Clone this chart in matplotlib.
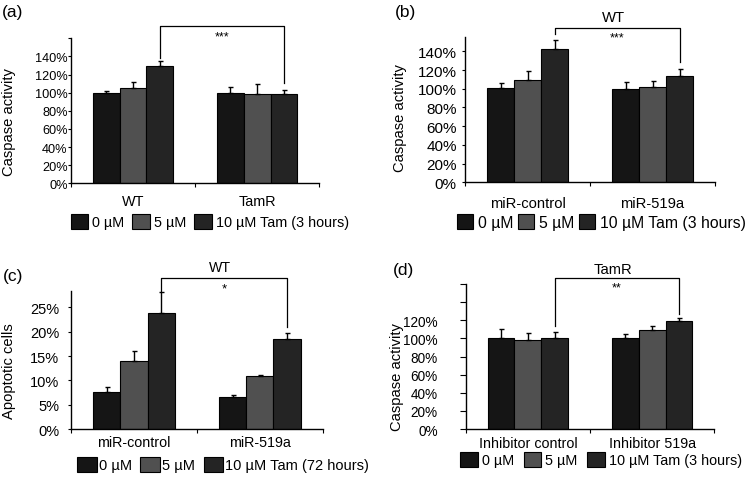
import matplotlib
matplotlib.use("Agg")
import matplotlib.pyplot as plt
import numpy as np

plt.rcParams['font.family'] = ['Liberation Sans', 'DejaVu Sans']

# ---------------- data ----------------
series_colors = ['#151515', '#505050', '#242424']

a_groups = ['WT', 'TamR']
a_0uM = [100, 100]
a_5uM = [104.8, 98.3]
a_10uM = [129, 98.5]
a_err0 = [1.5, 6]
a_err5 = [7, 11]
a_err10 = [5.5, 5]
a_legend = ['0 \u00b5M', '5 \u00b5M', '10 \u00b5M Tam (3 hours)']
a_sig = '***'

b_groups = ['miR-control', 'miR-519a']
b_0uM = [100.8, 99.8]
b_5uM = [109.7, 102.2]
b_10uM = [142.6, 113.7]
b_err0 = [5, 7]
b_err5 = [9, 6]
b_err10 = [10, 7.5]
b_legend = ['0 \u00b5M', '5 \u00b5M', '10 \u00b5M Tam (3 hours)']
b_header = 'WT'
b_sig = '***'

c_groups = ['miR-control', 'miR-519a']
c_0uM = [7.55, 6.6]
c_5uM = [13.9, 10.8]
c_10uM = [23.8, 18.5]
c_err0 = [1.15, 0.4]
c_err5 = [2.1, 0.2]
c_err10 = [4.3, 1.3]
c_legend = ['0 \u00b5M', '5 \u00b5M', '10 \u00b5M Tam (72 hours)']
c_header = 'WT'
c_sig = '*'

d_groups = ['Inhibitor control', 'Inhibitor 519a']
d_0uM = [100, 100]
d_5uM = [98.7, 108.7]
d_10uM = [100, 119.7]
d_err0 = [10, 5]
d_err5 = [7, 5.5]
d_err10 = [7, 3]
d_legend = ['0 \u00b5M', '5 \u00b5M', '10 \u00b5M Tam (3 hours)']
d_header = 'TamR'
d_sig = '**'

W, H = 745, 481
fig = plt.figure(figsize=(W / 100, H / 100), dpi=100)


def fx(px):
    return px / W


def fy(py):
    return 1 - py / H


def make_panel(letter, rect_px, groups, vals, errs, ylim, yticks, ylabels,
               ylabel, legend_labels, tick_fs, cat_fs, cat_pad, ytick_pad,
               ytick_len, leg_pos, leg_fs, leg_hl, leg_hh, leg_tp, leg_cs,
               bracket, sig, sig_y, sig_fs, header=None, header_y=None,
               header_fs=10.5, letter_pos=(3, 12), ylabel_fs=10.6,
               ylabel_px=(15, 120)):
    l, t, r, b = rect_px
    ax = fig.add_axes([fx(l), fy(b), fx(r - l), (b - t) / H])
    x = np.arange(len(groups))
    bw = 0.216
    handles = []
    tops = []
    for i, (v, e) in enumerate(zip(vals, errs)):
        xi = x + (i - 1) * bw
        bars = ax.bar(xi, v, bw, color=series_colors[i], edgecolor='black',
                      linewidth=0.8, zorder=2)
        ax.errorbar(xi, v, yerr=[np.zeros(len(v)), e], fmt='none',
                    ecolor='black', elinewidth=1.0, capsize=1.8,
                    capthick=1.0, zorder=3)
        handles.append(bars)
        tops.append(xi)
    ax.set_xlim(-0.5, 1.5)
    ax.set_ylim(0, ylim)
    ax.set_yticks(yticks)
    ax.set_yticklabels(ylabels, fontsize=tick_fs)
    ax.set_xticks(x)
    ax.set_xticklabels(groups, fontsize=cat_fs)
    ax.set_xticks([-0.5, 0.5, 1.5], minor=True)
    ax.tick_params(axis='x', which='major', length=0, pad=cat_pad)
    ax.tick_params(axis='x', which='minor', length=3, width=0.8,
                   direction='out')
    ax.tick_params(axis='y', length=ytick_len, width=0.8, pad=ytick_pad,
                   direction='out')
    for s in ['top', 'right']:
        ax.spines[s].set_visible(False)
    for s in ['left', 'bottom']:
        ax.spines[s].set_linewidth(1.0)
        ax.spines[s].set_color('black')
    ax.set_ylabel(ylabel, fontsize=ylabel_fs)
    ax.yaxis.set_label_coords((ylabel_px[0] - l) / (r - l),
                              (b - ylabel_px[1]) / (b - t))

    # significance bracket between the 10 uM bars
    xl = tops[2][0]
    xr = tops[2][1]
    ytop, yl, yr = bracket
    ax.plot([xl, xl, xr, xr], [yl, ytop, ytop, yr], color='black', lw=0.9,
            clip_on=False, zorder=4)
    ax.text((xl + xr) / 2, sig_y, sig, ha='center', va='center',
            fontsize=sig_fs, clip_on=False)
    if header is not None:
        ax.text((xl + xr) / 2 - 0.03, header_y, header, ha='center',
                va='center', fontsize=header_fs, clip_on=False)

    fig.legend(handles, legend_labels, loc='upper left',
               bbox_to_anchor=(fx(leg_pos[0]), fy(leg_pos[1])),
               ncol=3, frameon=False, fontsize=leg_fs,
               handlelength=leg_hl, handleheight=leg_hh,
               handletextpad=leg_tp, columnspacing=leg_cs,
               borderpad=0, borderaxespad=0)
    fig.text(fx(letter_pos[0]), fy(letter_pos[1]), '(' + letter + ')',
             fontsize=12.5, ha='left', va='center')
    return ax


make_panel('a', (71, 39.3, 319.3, 184.3), a_groups,
           [a_0uM, a_5uM, a_10uM], [a_err0, a_err5, a_err10],
           160, np.arange(0, 161, 20),
           ['%d%%' % v for v in range(0, 141, 20)] + [''],
           'Caspase activity', a_legend, 9.2, 10.4, 8, 0.5, 2,
           (70.5, 215), 10.4, 1.22, 1.2, 0.3, 0.54,
           (173.5, 138, 110.8), a_sig, 162, 9, letter_pos=(2, 12),
           ylabel_px=(16, 121.7))

make_panel('b', (465, 38.3, 715, 183.3), b_groups,
           [b_0uM, b_5uM, b_10uM], [b_err0, b_err5, b_err10],
           155, np.arange(0, 141, 20),
           ['%d%%' % v for v in range(0, 141, 20)],
           'Caspase activity', b_legend, 11, 10.6, 10, 3.5, 2.5,
           (457, 215), 11.3, 1.05, 1.07, 0.27, 0.31,
           (164.7, 158.6, 128.3), b_sig, 155, 9, header=b_header,
           header_y=176.5, header_fs=10.7, letter_pos=(395, 12),
           ylabel_px=(407, 118.3))

make_panel('c', (71, 292.3, 322.7, 430), c_groups,
           [c_0uM, c_5uM, c_10uM], [c_err0, c_err5, c_err10],
           28.3, np.arange(0, 26, 5),
           ['%d%%' % v for v in range(0, 26, 5)],
           'Apoptotic cells', c_legend, 10.5, 10.3, 4, 6, 2.5,
           (77.3, 457.5), 10.5, 1.33, 1.26, 0.16, 0.57,
           (31.0, 28.46, 20.9), c_sig, 28.8, 9.5, header=c_header,
           header_y=33.3, header_fs=10.2, letter_pos=(3, 276),
           ylabel_px=(16, 370.8))

make_panel('d', (465.7, 285, 714.3, 430), d_groups,
           [d_0uM, d_5uM, d_10uM], [d_err0, d_err5, d_err10],
           160, np.arange(0, 161, 20),
           ['%d%%' % v for v in range(0, 121, 20)] + ['', ''],
           'Caspase activity', d_legend, 9.8, 10.3, 5, 16, 4,
           (460.3, 452.5), 10.4, 1.23, 1.28, 0.28, 0.65,
           (166.5, 114.1, 127), d_sig, 156.6, 9, header=d_header,
           header_y=176.8, header_fs=10.6, letter_pos=(393, 270),
           ylabel_px=(404, 376.7))

fig.savefig('out.png', dpi=100)
